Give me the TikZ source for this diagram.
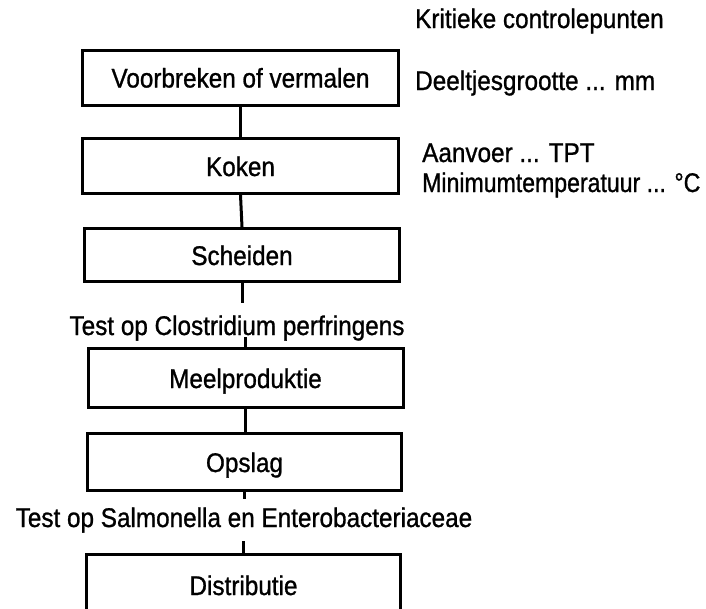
\documentclass[tikz,border=0pt]{standalone}
\usepackage{fontspec}
\setmainfont[FakeStretch=0.9,FakeBold=1]{Liberation Sans}
\begin{document}
\begin{tikzpicture}[x=1pt,y=-1pt,
  every node/.style={font=\fontsize{27pt}{30pt}\selectfont},
  stepbox/.style={draw,line width=3pt,inner sep=0pt,text height=20pt,text depth=0pt},
  note/.style={inner sep=0pt,anchor=base west},
  testlabel/.style={inner sep=0pt,anchor=base},
  link/.style={line width=3pt}]
\useasboundingbox (0,0) rectangle (706,608);
\clip (0,0) rectangle (706,608);

% process steps
\node[stepbox,minimum width=316pt,minimum height=55pt] (b1) at (240.5,77.5) {Voorbreken of vermalen};
\node[stepbox,minimum width=316pt,minimum height=55pt] (b2) at (240.5,166) {Koken};
\node[stepbox,minimum width=315.5pt,minimum height=53pt] (b3) at (242,255) {Scheiden};
\node[stepbox,minimum width=315pt,minimum height=59pt] (b4) at (245.5,378) {Meelproduktie};
\node[stepbox,minimum width=314pt,minimum height=56.5pt] (b5) at (244.5,462) {Opslag};
\node[stepbox,minimum width=314pt,minimum height=62pt] (b6) at (243.5,585) {Distributie};

% tests between steps
\node[testlabel] (t1) at (237,335) {Test op Clostridium perfringens};
\node[testlabel] (t2) at (244,527) {Test op Salmonella en Enterobacteriaceae};

% critical control points
\node[note] (k0) at (415,28) {Kritieke controlepunten};
\node[note] (k1) at (415,90) {Deeltjesgrootte ... mm};
\node[note] (k2) at (422,162) {Aanvoer ... TPT};
\node[note] (k3) at (422,192) {\scalebox{0.95}[1]{Minimumtemperatuur ... °C}};

% connectors
\draw[link] (b1.south) -- (b2.north);
\draw[link] (b2.south) -- (b3.north);
\draw[link] (b3.south) -- ([yshift=12pt]b3.south |- t1.north);
\draw[link] ([yshift=-2pt]b4.north |- t1.base) -- (b4.north);
\draw[link] (b4.south) -- (b4.south |- b5.north);
\draw[link] (b5.south) -- ([yshift=8pt]b5.south |- t2.north);
\draw[link] ([yshift=-14pt]b6.north |- t2.base) -- (b6.north);
\end{tikzpicture}
\end{document}
